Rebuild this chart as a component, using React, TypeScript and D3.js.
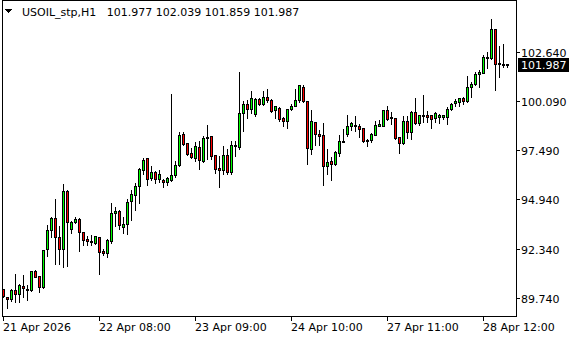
import React from 'react';
import * as d3 from 'd3';

const symbolTitle = 'USOIL_stp,H1';
const ohlcText = ['101.977', '102.039', '101.859', '101.987'];

const opens = [
  90.24, 89.82, 89.72, 90.19, 89.96, 90.40, 90.24, 90.17, 91.15, 90.92,
  90.35, 92.35, 93.33, 93.97, 92.97, 92.34, 95.34, 93.39, 93.75, 93.92,
  93.23, 92.85, 92.77, 92.63, 92.97, 92.24, 92.13, 92.73, 94.20, 94.29,
  93.49, 93.63, 94.85, 95.17, 95.62, 96.47, 97.07, 96.02, 96.37, 95.98,
  95.95, 95.86, 95.95, 96.19, 96.74, 98.37, 97.85, 97.36, 97.08, 97.69,
  96.92, 98.13, 98.25, 97.26, 96.59, 96.44, 97.26, 96.35, 97.73, 97.68,
  99.46, 99.94, 99.65, 99.41, 100.19, 99.93, 100.30, 100.15, 99.62, 99.72,
  99.16, 99.04, 99.65, 99.82, 100.15, 100.82, 100.09, 97.57, 99.00, 98.37,
  98.27, 96.66, 96.91, 96.79, 97.34, 97.94, 98.36, 98.76, 98.79, 98.79,
  98.64, 98.04, 98.02, 98.31, 98.79, 98.79, 99.58, 99.18, 99.21, 98.20,
  97.85, 99.05, 98.44, 99.51, 98.90, 99.28, 99.32, 99.32, 99.18, 99.25,
  99.25, 99.25, 99.67, 99.98, 100.01, 100.24, 100.06, 100.80, 100.94, 101.50,
  101.55, 102.39, 102.32, 103.86, 102.04, 102.00, 101.977,
];

const highs = [
  90.31, 89.89, 90.30, 91.06, 90.54, 91.04, 90.51, 91.24, 91.27, 90.94,
  92.35, 93.63, 94.08, 95.01, 93.58, 95.76, 95.47, 93.87, 94.04, 93.98,
  93.27, 93.06, 93.12, 93.08, 93.03, 92.39, 92.91, 94.80, 94.60, 94.40,
  94.08, 95.01, 95.48, 95.85, 96.63, 97.12, 97.12, 96.73, 96.44, 96.49,
  96.03, 96.14, 100.47, 97.01, 98.50, 98.53, 97.89, 97.68, 97.96, 98.01,
  98.32, 98.88, 98.32, 97.30, 97.27, 97.75, 97.64, 98.01, 98.01, 101.67,
  100.12, 100.19, 100.66, 100.29, 100.27, 100.63, 100.75, 100.22, 99.86, 99.79,
  99.28, 99.68, 99.96, 100.73, 100.99, 100.99, 100.13, 99.63, 99.05, 98.62,
  98.97, 97.59, 97.19, 97.52, 98.37, 98.67, 99.42, 99.05, 99.32, 98.90,
  98.69, 98.15, 98.43, 99.07, 99.14, 99.63, 99.89, 99.54, 99.25, 98.24,
  99.32, 99.32, 99.58, 100.26, 99.41, 100.42, 99.58, 99.41, 99.53, 99.46,
  99.42, 99.80, 100.01, 100.21, 100.27, 100.33, 101.46, 101.11, 101.64, 101.76,
  102.51, 102.68, 104.43, 103.91, 103.03, 103.09, 102.039,
];

const lows = [
  89.79, 89.24, 89.63, 89.54, 89.54, 89.80, 89.68, 90.13, 90.86, 90.09,
  90.31, 91.95, 92.95, 91.52, 91.52, 91.38, 91.42, 93.14, 93.70, 92.21,
  92.56, 92.56, 92.52, 92.59, 91.04, 91.99, 91.92, 92.64, 93.53, 93.39,
  93.18, 93.12, 93.84, 94.36, 94.75, 96.24, 95.67, 95.93, 95.79, 95.82,
  95.56, 95.69, 95.90, 96.11, 96.65, 97.75, 97.27, 97.08, 96.92, 96.49,
  96.89, 97.05, 97.05, 96.32, 95.58, 96.23, 96.26, 96.26, 97.19, 97.57,
  98.50, 99.20, 99.47, 99.28, 99.88, 99.84, 100.01, 99.49, 99.16, 99.05,
  98.79, 98.67, 99.59, 99.80, 100.01, 100.03, 96.80, 97.29, 97.75, 97.76,
  95.70, 96.23, 95.93, 96.75, 97.19, 97.92, 98.23, 98.58, 98.49, 98.18,
  97.95, 97.71, 97.92, 98.27, 98.76, 98.77, 99.09, 98.86, 98.06, 97.36,
  97.82, 98.15, 98.10, 98.85, 98.83, 98.99, 99.00, 98.67, 99.00, 98.93,
  99.14, 98.86, 99.59, 99.80, 99.80, 99.93, 100.01, 100.30, 100.89, 100.82,
  101.53, 101.81, 102.25, 100.64, 101.32, 101.85, 101.859,
];

const closes = [
  89.86, 89.72, 90.19, 89.96, 90.43, 90.28, 90.17, 91.15, 90.87, 90.35,
  92.29, 93.33, 93.97, 92.96, 92.35, 95.34, 93.74, 93.76, 93.92, 93.23,
  92.81, 92.77, 92.70, 93.03, 92.18, 92.11, 92.81, 94.22, 94.29, 93.56,
  93.66, 94.80, 95.18, 95.64, 96.54, 97.01, 95.98, 96.35, 96.00, 96.26,
  95.85, 96.02, 96.21, 96.74, 98.32, 97.81, 97.31, 97.13, 97.73, 97.00,
  98.15, 98.20, 97.19, 96.53, 96.45, 97.26, 96.35, 97.75, 97.75, 99.46,
  99.94, 99.65, 100.24, 100.17, 99.93, 100.30, 100.12, 99.54, 99.79, 99.11,
  99.05, 99.63, 99.82, 100.15, 100.90, 100.06, 97.63, 99.05, 98.34, 98.23,
  96.66, 96.89, 96.79, 97.38, 97.96, 97.99, 98.79, 98.90, 98.82, 98.62,
  97.97, 97.97, 98.37, 98.83, 98.85, 99.58, 99.14, 99.26, 98.13, 97.85,
  99.04, 98.44, 99.51, 98.90, 99.32, 99.35, 99.25, 99.11, 99.47, 99.32,
  99.33, 99.68, 99.93, 100.06, 100.24, 100.06, 100.82, 100.98, 101.50, 101.58,
  102.39, 102.32, 103.86, 102.02, 102.00, 101.97, 101.987,
];

const priceTicks = [102.64, 100.09, 97.49, 94.94, 92.34, 89.74];
const timeLabelIdx = [0, 24, 48, 72, 96, 120];
const timeLabels = ['21 Apr 2026', '22 Apr 08:00', '23 Apr 09:00', '24 Apr 10:00', '27 Apr 11:00', '28 Apr 12:00'];
const lastPrice = 101.987;

const FONT = "'DejaVu Sans', Tahoma, sans-serif";
const BULL = '#00ff00';
const BEAR = '#ff0000';

export default function App() {
  const W = 580;
  const H = 340;
  const L = 2.5, R = 516.5, T = 0.5, B = 316.5;
  const n = opens.length;
  const x = d3.scaleLinear().domain([0, n - 1]).range([3.5, 3.5 + 4 * (n - 1)]);
  const y = d3.scaleLinear().domain([89.74, 102.64]).range([298.9, 52.5]);
  const snap = (v: number) => Math.floor(v) + 0.5;
  const fmt = d3.format('.3f');

  const candles = d3.range(n).map((i) => {
    const cx = x(i);
    const yo = snap(y(opens[i]));
    const yc = snap(y(closes[i]));
    const yh = snap(y(highs[i]));
    const yl = snap(y(lows[i]));
    const top = Math.min(yo, yc);
    const bot = Math.max(yo, yc);
    const bull = closes[i] >= opens[i];
    const body = `M${cx - 1},${top}H${cx + 1}V${bot}H${cx - 1}Z`;
    return (
      <g key={i}>
        <line x1={cx} x2={cx} y1={yh} y2={yl} stroke="#000" strokeWidth={1} />
        <path d={body} fill={bull ? BULL : BEAR} stroke="#000" strokeWidth={1} />
      </g>
    );
  });

  const lastY = y(lastPrice);

  return (
    <svg width={W} height={H} style={{ position: 'absolute', left: 0, top: 0, background: '#fff' }}
      fontFamily={FONT} fontSize={11} shapeRendering="crispEdges">
      <rect x={0} y={0} width={W} height={H} fill="#fff" />
      <g clipPath="url(#plotclip)">{candles}</g>
      <defs>
        <clipPath id="plotclip">
          <rect x={L} y={T} width={R - L} height={B - T} />
        </clipPath>
      </defs>
      <rect x={L} y={T} width={R - L} height={B - T} fill="none" stroke="#000" strokeWidth={1} />
      {priceTicks.map((p) => {
        const ty = snap(y(p));
        return (
          <g key={p}>
            <line x1={R} x2={R + 3} y1={ty} y2={ty} stroke="#000" />
            <text x={521} y={ty + 4} fill="#000" shapeRendering="auto">{fmt(p)}</text>
          </g>
        );
      })}
      <rect x={518} y={Math.round(lastY) - 7} width={51} height={14} fill="#000" />
      <text x={521} y={Math.round(lastY) + 4} fill="#fff">{fmt(lastPrice)}</text>
      {timeLabelIdx.map((idx, k) => {
        const tx = x(idx);
        return (
          <g key={idx}>
            <line x1={tx} x2={tx} y1={B} y2={B + 4} stroke="#000" />
            <text x={tx - 0.5} y={331} fill="#000">{timeLabels[k]}</text>
          </g>
        );
      })}
      <path d="M5,9H12L8.5,13.5Z" fill="#000" />
      <text x={22} y={16} fill="#000" style={{ whiteSpace: 'pre' }}>
        {`${symbolTitle}   ${ohlcText.join(' ')}`}
      </text>
    </svg>
  );
}
